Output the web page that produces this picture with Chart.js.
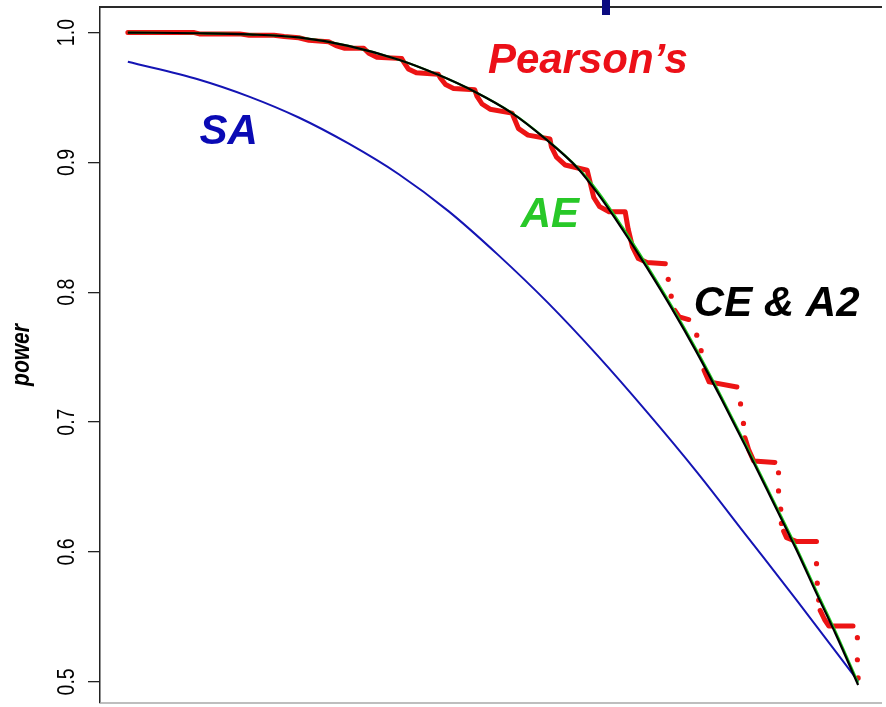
<!DOCTYPE html>
<html>
<head>
<meta charset="utf-8">
<script src="https://cdn.jsdelivr.net/npm/chart.js@4.4.1/dist/chart.umd.min.js"></script>
<style>
  html, body { margin: 0; padding: 0; background: #ffffff; }
  #wrap { width: 886px; height: 707px; }
</style>
</head>
<body>
<div id="wrap"><canvas id="c" width="886" height="707"></canvas></div>
<script>
// ---- data ----
const xCurve = [0, 0.098, 0.166, 0.234, 0.302, 0.371, 0.425, 0.475, 0.525, 0.571, 0.616, 0.643,
                0.677, 0.711, 0.745, 0.779, 0.813, 0.847, 0.884, 0.916, 0.943, 0.970, 1.000];
const ceA2 = [1.000, 0.9995, 0.9986, 0.9963, 0.9898, 0.9791, 0.9675, 0.9545, 0.9384, 0.9185, 0.8955, 0.8763,
              0.8487, 0.8188, 0.7874, 0.7537, 0.7176, 0.6801, 0.6379, 0.6011, 0.5681, 0.5359, 0.4976];
const ae   = [1.000, 0.9995, 0.9986, 0.9963, 0.9898, 0.9791, 0.9675, 0.9545, 0.9386, 0.9188, 0.8960, 0.8780,
              0.8505, 0.8206, 0.7892, 0.7555, 0.7194, 0.6819, 0.6397, 0.6029, 0.5699, 0.5377, 0.4994];
const xSA  = [0, 0.098, 0.166, 0.234, 0.302, 0.371, 0.439, 0.507, 0.575, 0.643, 0.711, 0.779,
              0.847, 0.916, 1.000];
const sa   = [0.9775, 0.9637, 0.9507, 0.9346, 0.9146, 0.8909, 0.8625, 0.8288, 0.7920, 0.7514, 0.7077, 0.6617,
              0.6126, 0.5628, 0.5006];
// Pearson's: continuous runs of dots (null = break between runs)
const pearsonRunX = [0, 0.050, 0.091, 0.098, 0.153, 0.166, 0.200, 0.214, 0.234, 0.248, 0.275, 0.285, 0.296, 0.323,
  0.330, 0.341, 0.375, 0.377, 0.384, 0.395, 0.425, 0.428, 0.435, 0.446, 0.475, 0.478, 0.485, 0.496, 0.526,
  0.529, 0.535, 0.548, 0.578, 0.580, 0.587, 0.599, 0.629, 0.632, 0.638, 0.646, 0.659, 0.681, 0.685, 0.691,
  0.699, 0.711, 0.736, 0.740,
  0.749, 0.755, 0.768, 0.772,
  0.789, 0.796, 0.834, 0.836,
  0.845, 0.850, 0.857, 0.886, 0.888,
  0.898, 0.902, 0.916, 0.943, 0.944,
  0.948, 0.954, 0.960, 0.993];
const pearsonRunY = [1.000, 1.000, 1.000, 0.999, 0.999, 0.998, 0.998, 0.997, 0.996, 0.994, 0.993, 0.990, 0.988, 0.988,
  0.984, 0.981, 0.980, 0.978, 0.972, 0.969, 0.968, 0.965, 0.960, 0.957, 0.956, 0.951, 0.945, 0.941, 0.938,
  0.934, 0.926, 0.921, 0.918, 0.912, 0.904, 0.898, 0.894, 0.887, 0.873, 0.866, 0.862, 0.862, 0.849, 0.835,
  0.826, 0.823, 0.822, null,
  0.786, 0.781, 0.779, null,
  0.740, 0.731, 0.727, null,
  0.688, 0.679, 0.670, 0.669, null,
  0.616, 0.611, 0.608, 0.608, null,
  0.555, 0.548, 0.543, 0.543];
// Pearson's: isolated dots on the drops between runs
const pearsonDotX = [0.740, 0.744, 0.779, 0.785, 0.839, 0.843, 0.891, 0.891, 0.894, 0.895, 0.943, 0.944, 0.946, 0.999, 0.999, 1.000];
const pearsonDotY = [0.810, 0.797, 0.767, 0.755, 0.714, 0.699, 0.661, 0.647, 0.633, 0.622, 0.591, 0.576, 0.563, 0.534, 0.517, 0.503];
const yTicks = [0.5, 0.6, 0.7, 0.8, 0.9, 1.0];
const yTickLabels = ["0.5", "0.6", "0.7", "0.8", "0.9", "1.0"];
const yTitle = "power";
const labelTexts = ["SA", "Pearson\u2019s", "AE", "CE & A2"];

// ---- helpers ----
const pts = (xs, ys) => xs.map((x, i) => ({ x: x, y: ys[i] }));

const deco = {
  id: 'deco',
  afterDraw(chart) {
    const ctx = chart.ctx;
    const a = chart.chartArea;
    const ys = chart.scales.y, xs = chart.scales.x;
    ctx.save();
    // top frame line
    ctx.strokeStyle = '#2a2a2a'; ctx.lineWidth = 2;
    ctx.beginPath(); ctx.moveTo(a.left, a.top); ctx.lineTo(a.right, a.top); ctx.stroke();
    // bottom frame line (light)
    ctx.strokeStyle = '#a8a8a8'; ctx.lineWidth = 1.5;
    ctx.beginPath(); ctx.moveTo(a.left, a.bottom); ctx.lineTo(a.right, a.bottom); ctx.stroke();
    // navy mark at top (piece of a title above the plot)
    ctx.fillStyle = '#0b0b80';
    ctx.fillRect(602, 0, 8, 15);

    // y tick labels, rotated (reading upward)
    ctx.fillStyle = '#000';
    ctx.font = '19.5px "Liberation Sans", Arial, sans-serif';
    ctx.textAlign = 'center'; ctx.textBaseline = 'middle';
    yTicks.forEach((v, i) => {
      const py = ys.getPixelForValue(v);
      ctx.save();
      ctx.translate(67, py);
      ctx.rotate(-Math.PI / 2);
      ctx.scale(1, 1.22);
      ctx.fillText(yTickLabels[i], 0, 0);
      ctx.restore();
    });
    // y axis title
    ctx.save();
    ctx.font = 'italic bold 21px "Liberation Sans", Arial, sans-serif';
    ctx.translate(22, (a.top + a.bottom) / 2);
    ctx.rotate(-Math.PI / 2);
    ctx.scale(1, 1.2);
    ctx.fillText(yTitle, 0, 0);
    ctx.restore();

    // series annotations
    const notes = [
      { t: labelTexts[0], x: 0.098, y: 0.914, c: '#0a0ab4' },
      { t: labelTexts[1], x: 0.493, y: 0.969, c: '#ec1018' },
      { t: labelTexts[2], x: 0.538, y: 0.850, c: '#28c828' },
      { t: labelTexts[3], x: 0.775, y: 0.782, c: '#000000' }
    ];
    ctx.font = 'italic bold 42px "Liberation Sans", Arial, sans-serif';
    ctx.textAlign = 'left'; ctx.textBaseline = 'alphabetic';
    notes.forEach(n => {
      ctx.fillStyle = n.c;
      ctx.fillText(n.t, xs.getPixelForValue(n.x), ys.getPixelForValue(n.y));
    });
    ctx.restore();
  }
};

new Chart(document.getElementById('c'), {
  type: 'line',
  data: {
    datasets: [
      { label: 'CE & A2', data: pts(xCurve, ceA2), borderColor: '#000000', borderWidth: 2.2,
        pointRadius: 0, cubicInterpolationMode: 'monotone', order: 0 },
      { label: 'AE', data: pts(xCurve, ae), borderColor: '#22cc22', borderWidth: 2.2,
        pointRadius: 0, cubicInterpolationMode: 'monotone', order: 1 },
      { label: 'SA', data: pts(xSA, sa), borderColor: '#1414b4', borderWidth: 2,
        pointRadius: 0, cubicInterpolationMode: 'monotone', order: 2 },
      { label: "Pearson's", data: pts(pearsonRunX, pearsonRunY), borderColor: '#ec1414', borderWidth: 5,
        borderCapStyle: 'round', borderJoinStyle: 'round', pointRadius: 0, spanGaps: false, tension: 0, order: 3 },
      { label: "Pearson's dots", data: pts(pearsonDotX, pearsonDotY), showLine: false, pointRadius: 2.6,
        pointBorderWidth: 0, pointBackgroundColor: '#ec1414', pointBorderColor: '#ec1414', order: 4 }
    ]
  },
  options: {
    responsive: false,
    animation: false,
    devicePixelRatio: 1,
    layout: { padding: { top: 7, bottom: 1, left: 0, right: 0 } },
    plugins: { legend: { display: false }, tooltip: { enabled: false }, title: { display: false } },
    scales: {
      x: { type: 'linear', display: false, min: -0.03815, max: 1.0327 },
      y: {
        type: 'linear', min: 0.4837, max: 1.0197,
        afterBuildTicks: s => { s.ticks = yTicks.map(v => ({ value: v })); },
        afterFit: s => { s.width = 100; },
        ticks: { display: false },
        grid: { drawOnChartArea: false, drawTicks: true, tickLength: 12, color: '#222', lineWidth: 1.3 },
        border: { display: true, color: '#222', width: 1.5 }
      }
    }
  },
  plugins: [deco]
});
</script>
</body>
</html>
